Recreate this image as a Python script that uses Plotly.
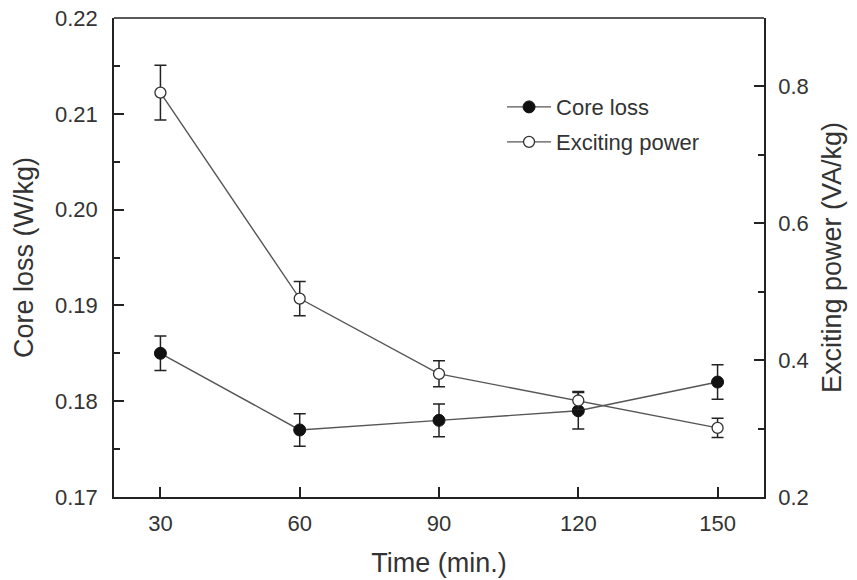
import plotly.graph_objects as go

time_min = [30, 60, 90, 120, 150]
core_loss = [0.185, 0.177, 0.178, 0.179, 0.182]
core_loss_err = [0.0018, 0.0017, 0.0017, 0.0019, 0.0018]
exciting_power = [0.791, 0.490, 0.380, 0.341, 0.301]
exciting_power_err = [0.040, 0.025, 0.019, 0.013, 0.014]

font_family = "Liberation Sans, Arial, sans-serif"
txt = "#333333"
line_c = "#555555"

fig = go.Figure()
fig.add_trace(go.Scatter(
    x=time_min, y=core_loss, name="Core loss", mode="lines+markers",
    line=dict(color=line_c, width=1.4),
    marker=dict(symbol="circle", size=12, color="#111111", line=dict(color="#111111", width=1)),
    error_y=dict(type="data", array=core_loss_err, visible=True, color="#222222", thickness=1.5, width=6),
    legend="legend", yaxis="y"))
fig.add_trace(go.Scatter(
    x=time_min, y=exciting_power, name="Exciting power", mode="lines+markers",
    line=dict(color=line_c, width=1.4),
    marker=dict(symbol="circle", size=11, color="white", line=dict(color="#333333", width=1.3)),
    error_y=dict(type="data", array=exciting_power_err, visible=True, color="#222222", thickness=1.5, width=6),
    legend="legend2", yaxis="y2"))

axis_common = dict(showline=True, linecolor="#222222", linewidth=1.5, mirror=False,
                   ticks="inside", tickcolor="#222222", tickwidth=1.5, ticklen=10,
                   showgrid=False, zeroline=False, automargin=False,
                   tickfont=dict(family=font_family, size=22, color=txt))
title_font = dict(family=font_family, size=27, color=txt)
legend_font = dict(family=font_family, size=22, color=txt)

fig.update_layout(
    width=857, height=580,
    margin=dict(l=114, r=93, t=18, b=83),
    paper_bgcolor="white", plot_bgcolor="white",
    showlegend=True,
    xaxis=dict(range=[20, 160], tickvals=[30, 60, 90, 120, 150],
               title=dict(text="Time (min.)", font=title_font, standoff=18),
               ticklabelstandoff=6, **axis_common),
    yaxis=dict(range=[0.17, 0.22], tickvals=[0.17, 0.18, 0.19, 0.20, 0.21, 0.22],
               ticktext=["0.17", "0.18", "0.19", "0.20", "0.21", "0.22"],
               minor=dict(dtick=0.005, ticks="inside", ticklen=6, tickcolor="#222222", tickwidth=1.5),
               title=dict(text="Core loss (W/kg)", font=title_font, standoff=14),
               ticklabelstandoff=10, **axis_common),
    yaxis2=dict(range=[0.2, 0.9], overlaying="y", side="right", tickvals=[0.2, 0.4, 0.6, 0.8],
                ticktext=["0.2", "0.4", "0.6", "0.8"],
                minor=dict(dtick=0.1, ticks="inside", ticklen=6, tickcolor="#222222", tickwidth=1.5),
                title=dict(text="Exciting power (VA/kg)", font=title_font, standoff=14),
                ticklabelstandoff=8, **axis_common),
    legend=dict(x=0.597, y=0.814, xanchor="left", yanchor="middle", bgcolor="rgba(0,0,0,0)",
                itemwidth=44, font=legend_font),
    legend2=dict(x=0.597, y=0.741, xanchor="left", yanchor="middle", bgcolor="rgba(0,0,0,0)",
                 itemwidth=44, font=legend_font),
)
fig.add_shape(type="line", xref="paper", yref="paper", x0=0, x1=1, y0=1, y1=1,
              line=dict(color="#222222", width=1.5))

fig.write_html("out.html")
